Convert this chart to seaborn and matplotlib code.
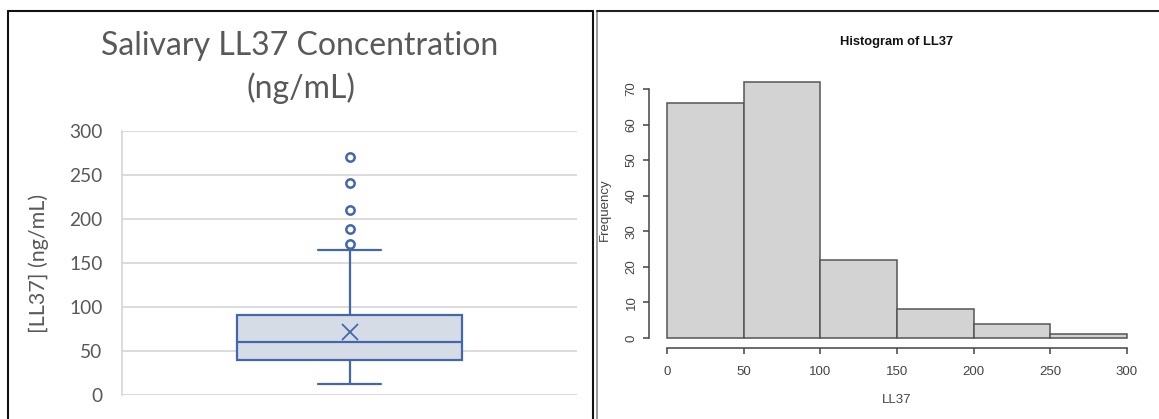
import numpy as np
import pandas as pd
import matplotlib
matplotlib.use("Agg")
import matplotlib.pyplot as plt
from matplotlib.lines import Line2D
import seaborn as sns

# ---------------- data ----------------
# Left panel: box-plot summary of salivary LL37 (ng/mL)
whisker_low = 12
q1 = 40
median = 60
q3 = 91
whisker_high = 165
mean_value = 72
outliers = [172, 189, 210, 241, 271]
box_yticks = [0, 50, 100, 150, 200, 250, 300]

# Right panel: histogram of LL37
bin_edges = [0, 50, 100, 150, 200, 250, 300]
bin_counts = [66, 72, 22, 8, 4, 1]
hist_xticks = [0, 50, 100, 150, 200, 250, 300]
hist_yticks = [0, 10, 20, 30, 40, 50, 60, 70]

# ---------------- style ----------------
sns.set_theme(style="white")
plt.rcParams["font.family"] = ["Lato", "DejaVu Sans"]

W, H = 1159, 419
fig = plt.figure(figsize=(W / 100, H / 100), dpi=100)
fig.patch.set_facecolor("white")


def fx(px):
    return px / W


def fy(py):
    return 1 - py / H


# ---------------- left panel: box plot ----------------
box_col = "#4267AE"
fill_col = "#D6DCE6"
txt_col = "#595959"
grid_col = "#D9D9D9"

ax1 = fig.add_axes([fx(122), fy(395), fx(577) - fx(122), fy(131) - fy(395)])
stats = [dict(whislo=whisker_low, q1=q1, med=median, q3=q3, whishi=whisker_high,
              mean=mean_value, fliers=outliers, label="")]
ax1.bxp(stats, positions=[0], widths=0.495, capwidths=0.138, showmeans=True,
        meanline=False, patch_artist=True,
        boxprops=dict(facecolor=fill_col, edgecolor=box_col, linewidth=1.6),
        medianprops=dict(color=box_col, linewidth=1.6),
        whiskerprops=dict(color=box_col, linewidth=1.6),
        capprops=dict(color=box_col, linewidth=1.6),
        flierprops=dict(marker="o", markerfacecolor="none", markeredgecolor=box_col,
                        markersize=6, markeredgewidth=1.8),
        meanprops=dict(marker="x", markeredgecolor=box_col, markersize=12,
                       markeredgewidth=1.3),
        zorder=3)
ax1.set_xlim(-0.5, 0.5)
ax1.set_ylim(0, 300)
ax1.set_yticks(box_yticks)
ax1.set_xticks([])
ax1.yaxis.grid(True, color=grid_col, linewidth=1.3, zorder=0)
ax1.set_axisbelow(True)
for s in ["top", "right", "bottom"]:
    ax1.spines[s].set_visible(False)
ax1.spines["left"].set_color(grid_col)
ax1.spines["left"].set_linewidth(1.3)
ax1.tick_params(axis="y", length=0, pad=14, labelsize=13.8, labelcolor=txt_col)
ax1.set_ylabel("")
fig.text(fx(39), fy(263), "[LL37] (ng/mL)", ha="center", va="center",
         fontsize=15.5, color=txt_col, rotation=90)

fig.text(fx(300), fy(46), "Salivary LL37 Concentration", ha="center", va="center",
         fontsize=23, color=txt_col)
fig.text(fx(301), fy(88), "(ng/mL)", ha="center", va="center",
         fontsize=23, color=txt_col)

# ---------------- right panel: histogram ----------------
ax2 = fig.add_axes([fx(648.6), fy(348.2), fx(1145.4) - fx(648.6), fy(71.6) - fy(348.2)])
edges = np.array(bin_edges, dtype=float)
centers = (edges[:-1] + edges[1:]) / 2
hist_df = pd.DataFrame({"LL37": centers, "count": bin_counts})
sns.histplot(data=hist_df, x="LL37", weights="count", bins=bin_edges, ax=ax2,
             color="#D3D3D3", edgecolor="#555555", linewidth=1.1, alpha=1.0)
ax2.set_xlim(-12, 312)
ax2.set_ylim(-2.88, 74.88)
ax2.set_xticks(hist_xticks)
ax2.set_yticks(hist_yticks)
for s in ["top", "right"]:
    ax2.spines[s].set_visible(False)
ax2.spines["left"].set_bounds(0, 70)
ax2.spines["bottom"].set_bounds(0, 300)
for s in ["left", "bottom"]:
    ax2.spines[s].set_color("#444444")
    ax2.spines[s].set_linewidth(1.1)
ax2.tick_params(axis="both", direction="out", length=4, width=1.1, color="#444444",
                labelsize=9.5, labelcolor="#444444", bottom=True, left=True)
ax2.tick_params(axis="x", pad=9)
ax2.tick_params(axis="y", pad=4)
for lab in ax2.get_yticklabels():
    lab.set_rotation(90)
    lab.set_va("center")
    lab.set_family(["Liberation Sans", "DejaVu Sans"])
for lab in ax2.get_xticklabels():
    lab.set_family(["Liberation Sans", "DejaVu Sans"])
ax2.set_xlabel("")
ax2.set_ylabel("")
fig.text(fx(897), fy(400), "LL37", ha="center", va="center", fontsize=9.5,
         color="#444444", family=["Liberation Sans", "DejaVu Sans"])
fig.text(fx(605), fy(210), "Frequency", ha="center", va="center", fontsize=9.5,
         color="#444444", rotation=90, family=["Liberation Sans", "DejaVu Sans"])
fig.text(fx(897), fy(42), "Histogram of LL37", ha="center", va="center",
         fontsize=9.3, fontweight="bold", color="#111111",
         family=["Liberation Sans", "DejaVu Sans"])

# ---------------- panel frames ----------------
fig.add_artist(Line2D([fx(8), fx(8)], [fy(11.5), 0], color="#111111", lw=1.5))
fig.add_artist(Line2D([fx(8), fx(593)], [fy(11.5), fy(11.5)], color="#111111", lw=1.5))
fig.add_artist(Line2D([fx(593), fx(593)], [fy(11.5), 0], color="#111111", lw=1.5))
fig.add_artist(Line2D([fx(597), fx(597)], [fy(11.5), 0], color="#888888", lw=1.2))
fig.add_artist(Line2D([fx(597), 1], [fy(11.5), fy(11.5)], color="#222222", lw=1.5))

fig.savefig("out.png", dpi=100, facecolor="white")
